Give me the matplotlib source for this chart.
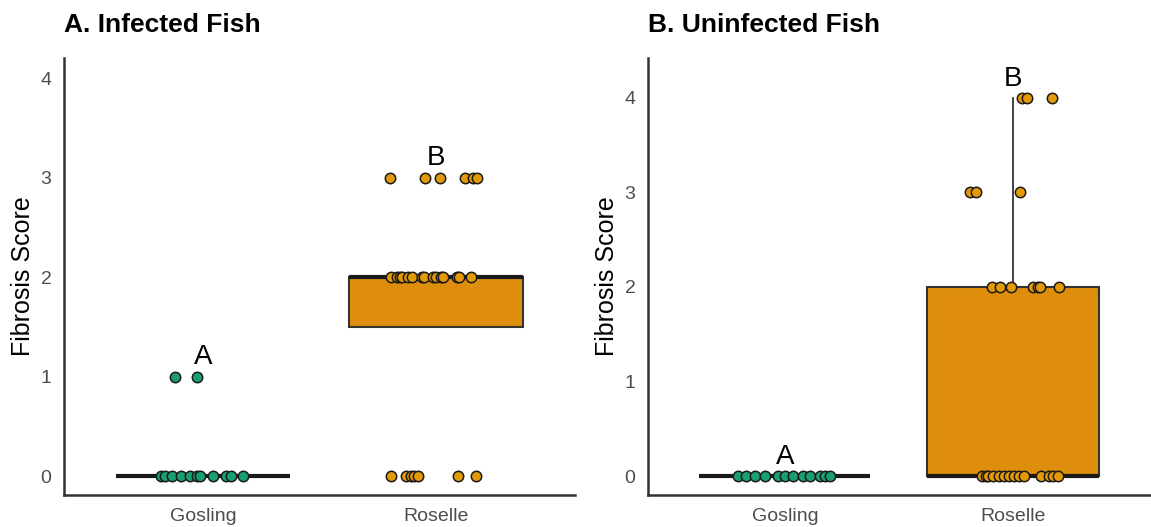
import numpy as np
import matplotlib.pyplot as plt

plt.rcParams['font.family'] = ['Liberation Sans', 'DejaVu Sans']

groups = ['Gosling', 'Roselle']
colors = ['#1a9e73', '#e39a06']
box_fill = ['#1a9e73', '#df8e0b']

# panel A: infected fish -- (score, jitter offset) per fish
a_gos_y = [0]*11 + [1, 1]
a_gos_dx = [-0.184, -0.167, -0.137, -0.098, -0.056, -0.026, -0.013, 0.043, 0.098, 0.12, 0.171,
            -0.12, -0.026]
a_ros_y = [0]*7 + [2]*15 + [3]*6
a_ros_dx = [-0.192, -0.128, -0.107, -0.095, -0.077, 0.098, 0.175,
            -0.192, -0.167, -0.155, -0.145, -0.12, -0.103, -0.06, -0.051, -0.01, 0.0, 0.021, 0.03, 0.09, 0.1, 0.154,
            -0.197, -0.047, 0.017, 0.128, 0.162, 0.179]

# panel B: uninfected fish
b_gos_y = [0]*12
b_gos_dx = [-0.204, -0.17, -0.13, -0.087, -0.03, 0.0, 0.035, 0.078, 0.109, 0.152, 0.174, 0.196]
b_ros_y = [0]*14 + [2]*7 + [3]*3 + [4]*3
b_ros_dx = [-0.135, -0.12, -0.109, -0.087, -0.061, -0.04, -0.017, 0.004, 0.026, 0.048, 0.122, 0.16, 0.174, 0.196,
            -0.091, -0.057, -0.009, 0.087, 0.109, 0.117, 0.2,
            -0.187, -0.161, 0.03,
            0.039, 0.061, 0.17]

letters_a = ['A', 'B']
letters_b = ['A', 'B']

panels = [
    ('A. Infected Fish', [a_gos_y, a_ros_y], [a_gos_dx, a_ros_dx], letters_a, (-0.19, 4.2)),
    ('B. Uninfected Fish', [b_gos_y, b_ros_y], [b_gos_dx, b_ros_dx], letters_b, (-0.2, 4.42)),
]

fig = plt.figure(figsize=(11.51, 5.27), dpi=100)
rects = [[0.0556, 0.0607, 0.444, 0.829], [0.563, 0.0607, 0.436, 0.829]]

for rect, (title, ys, dxs, letters, ylim) in zip(rects, panels):
    ax = fig.add_axes(rect)
    bp = ax.boxplot(ys, positions=[1, 2], widths=0.75, patch_artist=True, showfliers=False,
                    showcaps=False, whis=1.5,
                    medianprops=dict(color='#1a1a1a', linewidth=3, solid_capstyle='butt'),
                    whiskerprops=dict(color='#333333', linewidth=1.3),
                    boxprops=dict(edgecolor='#333333', linewidth=1.5))
    for patch, fc in zip(bp['boxes'], box_fill):
        patch.set_facecolor(fc)
    for i, (y, dx) in enumerate(zip(ys, dxs)):
        x = np.array(dx) + i + 1
        ax.scatter(x, y, s=56, color=colors[i], edgecolor='#1a1a1a', linewidth=1.1, zorder=5)
        ax.text(i + 1, max(y) + 0.2, letters[i], ha='center', va='center', fontsize=20, zorder=6)
    ax.set_xlim(0.4, 2.6)
    ax.set_ylim(*ylim)
    ax.set_xticks([1, 2])
    ax.set_xticklabels(groups)
    ax.set_yticks([0, 1, 2, 3, 4])
    ax.tick_params(length=0, labelsize=14, labelcolor='#4d4d4d', pad=9)
    for s in ['top', 'right']:
        ax.spines[s].set_visible(False)
    for s in ['left', 'bottom']:
        ax.spines[s].set_color('#333333')
        ax.spines[s].set_linewidth(1.8)
    ax.set_ylabel('Fibrosis Score', fontsize=18, labelpad=4)
    ax.set_title(title, loc='left', fontsize=19, fontweight='bold', pad=19)

fig.savefig('out.png', dpi=100)
